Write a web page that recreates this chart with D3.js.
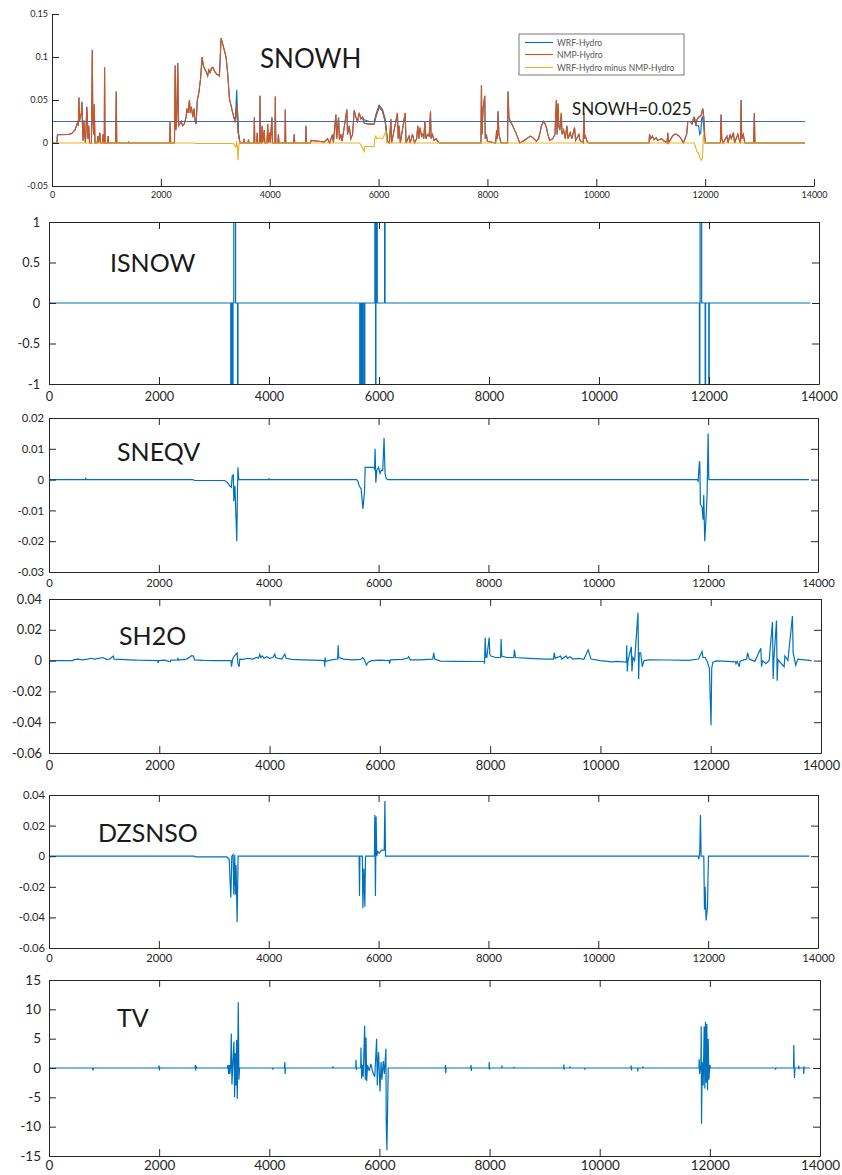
<!DOCTYPE html>
<html lang="en">
<head>
<meta charset="UTF-8">
<title>WRF-Hydro vs NMP-Hydro snow variables</title>
<script src="https://d3js.org/d3.v7.min.js"></script>
<style>
    body{ margin:0; background:#fff; }
    svg text{ font-family: Lato, "DejaVu Sans", sans-serif; }
</style>
</head>
<body>
<svg id="canvas" width="842" height="1175"></svg>
<script>
// shared x ticks
let xTicks = [0, 2000, 4000, 6000, 8000, 10000, 12000, 14000];

// y tick labels per panel
let snowhTicks = [-0.05, 0, 0.05, 0.1, 0.15];
let isnowTicks = [-1, -0.5, 0, 0.5, 1];
let sneqvTicks = [-0.03, -0.02, -0.01, 0, 0.01, 0.02];
let sh2oTicks = [-0.06, -0.04, -0.02, 0, 0.02, 0.04];
let dzsnsoTicks = [-0.06, -0.04, -0.02, 0, 0.02, 0.04];
let tvTicks = [-15, -10, -5, 0, 5, 10, 15];

let legendNames = ["WRF-Hydro", "NMP-Hydro", "WRF-Hydro minus NMP-Hydro"];
let snowhThreshold = 0.025;

// SNOWH, NMP-Hydro (the WRF-Hydro curve is the same except in the patches below)
let nmpSnowh = [[0,0],[90,0],[100,0.0096],[300,0.0098],[360,0.011],[420,0.015],[450,0.02],[470,0.024],[485,0.02],[495,0.053],[505,0.025],[520,0.03],[540,0.035],[550,0.048],[560,0.02],[570,0.003],[585,0.026],[600,0.01],[615,0],[640,0.042],[650,0.03],[660,0.005],[675,0.02],[690,0],[725,0],[740,0.108],[750,0.03],[765,0.01],[777,0.045],[790,0],[830,0],[845,0.008],[855,0],[880,0.012],[890,0],[925,0],[940,0.01],[950,0],[960,0],[966,0.088],[975,0],[1020,0],[1030,0.008],[1040,0],[1170,0],[1180,0.06],[1190,0],[1400,0],[1410,0.001],[1420,0],
    [2160,0],[2171,0.025],[2180,0],[2250,0],[2263,0.09],[2275,0.015],[2290,0.025],[2311,0.093],[2325,0.02],[2345,0.022],[2373,0.025],[2400,0.02],[2430,0.022],[2464,0.03],[2480,0.04],[2500,0.035],[2526,0.05],[2540,0.035],[2560,0.042],[2587,0.03],[2610,0.04],[2630,0.025],[2648,0.022],[2670,0.05],[2697,0.058],[2730,0.075],[2758,0.1],[2780,0.09],[2801,0.087],[2831,0.083],[2860,0.078],[2880,0.085],[2905,0.082],[2930,0.087],[2954,0.088],[2990,0.083],[3027,0.08],[3060,0.079],[3076,0.078],[3106,0.122],[3149,0.112],[3198,0.1],[3229,0.08],[3259,0.052],[3302,0.04],[3339,0.03],[3369,0.024],[3394,0.045],[3410,0.025],[3420,0.012],[3443,0.004],[3460,0],
    [3520,0],[3530,0.005],[3540,0],[3600,0],[3610,0.004],[3620,0],[3710,0],[3718,0.03],[3726,0],[3760,0],[3770,0.012],[3780,0],[3815,0],[3822,0.055],[3830,0],[3850,0],[3860,0.02],[3870,0],[3900,0.015],[3910,0],[3950,0],[3963,0.022],[3975,0],[4000,0.012],[4010,0],[4040,0.03],[4050,0],[4095,0],[4103,0.054],[4112,0],[4150,0],[4160,0.01],[4170,0],[4280,0],[4287,0.039],[4295,0],[4440,0],[4450,0.01],[4460,0],[4660,0],[4666,0.02],[4672,0],[4750,0],[4760,0.003],[4900,0.002],[5000,0.001],
    [5063,0.005],[5100,0],[5155,0.01],[5170,0],[5216,0.033],[5230,0.005],[5265,0.03],[5280,0.004],[5308,0.01],[5330,0.002],[5418,0.039],[5430,0.01],[5461,0.02],[5490,0.005],[5522,0.01],[5553,0.038],[5583,0.03],[5614,0.025],[5644,0.035],[5675,0.028],[5705,0.03],[5736,0.023],[5828,0.022],[5919,0.022],[5950,0.03],[6011,0.042],[6072,0.037],[6121,0.025],[6164,0.002],[6200,0],[6225,0.028],[6240,0],[6347,0.035],[6360,0.005],[6378,0.02],[6400,0],[6488,0.035],[6505,0],[6560,0.008],[6580,0],[6623,0.01],[6660,0],
    [6700,0.005],[6720,0.02],[6740,0.005],[6760,0.018],[6790,0.008],[6810,0.01],[6830,0.005],[6850,0.025],[6870,0.005],[6900,0.01],[6930,0.008],[6954,0.037],[6965,0.005],[6990,0.01],[7020,0.003],[7060,0.005],[7080,0.002],[7120,0],[7880,0],[7890,0.067],[7900,0.01],[7920,0.04],[7951,0.055],[7960,0.005],[7980,0.01],[8000,0.002],[8150,0],[8170,0.015],[8180,0.005],[8196,0.037],[8210,0.01],[8230,0.005],[8250,0],[8370,0],[8379,0.06],[8395,0.03],[8420,0.025],[8450,0.022],[8500,0.015],[8560,0.006],[8593,0],[8650,0.002],[8720,0.005],[8790,0.008],[8840,0.006],[8899,0.002],[8940,0.005],[8970,0.013],[8991,0.02],[9034,0.025],[9060,0.022],[9083,0.018],[9110,0.01],[9144,0.003],[9200,0.005],[9240,0.01],[9266,0.05],[9280,0.01],[9297,0.046],[9310,0.02],[9330,0.015],[9358,0.035],[9370,0.01],[9400,0.015],[9430,0.005],[9460,0.02],[9480,0.005],[9520,0.012],[9550,0.005],[9600,0.018],[9620,0.003],[9680,0.01],[9700,0.003],[9760,0],[9774,0.035],[9785,0.005],[9800,0.008],[9830,0.002],[9860,0],
    [10970,0],[10978,0.01],[11000,0.005],[11030,0.008],[11060,0.004],[11100,0.006],[11130,0.003],[11200,0.005],[11250,0.002],[11300,0],[11315,0.012],[11325,0],[11400,0.008],[11437,0.01],[11480,0.01],[11520,0.008],[11560,0.005],[11600,0],[11660,0.01],[11682,0.025],[11720,0.025],[11760,0.022],[11790,0.03],[11804,0.03],[11830,0.02],[11850,0.027],[11880,0.03],[11926,0.032],[11957,0.04],[11975,0.03],[11990,0.01],[12000,0],[12280,0],[12293,0.033],[12305,0.005],[12330,0],[12400,0.008],[12420,0],[12460,0.01],[12480,0.005],[12520,0.012],[12540,0],[12600,0.01],[12620,0.005],[12650,0],[12660,0.05],[12672,0.005],[12700,0.01],[12730,0],[12890,0],[12904,0.035],[12915,0],[13835,0]];

// SNOWH, WRF-Hydro where it departs from NMP-Hydro
let wrfSnowhPatches = [
    [[3339,0.03],[3369,0.028],[3394,0.062],[3405,0.04],[3418,0.03],[3430,0.01],[3443,0.004]],
    [[5705,0.03],[5736,0.027],[5828,0.025],[5919,0.025],[5950,0.033],[6011,0.044],[6072,0.039],[6121,0.028],[6164,0.002]],
    [[11790,0.03],[11810,0.025],[11840,0.02],[11880,0.02],[11900,0.01],[11920,0.012],[11935,0.028],[11950,0.03],[11975,0.02],[11990,0.005],[12000,0]]
];

// SNOWH, WRF-Hydro minus NMP-Hydro
let diffSnowh = [[0,0],[2600,0],[2650,-0.0006],[3300,-0.0006],[3339,-0.001],[3380,-0.005],[3394,0.002],[3405,-0.003],[3418,-0.02],[3430,-0.005],[3443,0],[5650,0],[5675,-0.002],[5700,-0.005],[5736,-0.01],[5750,-0.004],[5919,-0.004],[5928,0.005],[5950,0.008],[5968,0.005],[6011,0.006],[6072,0.005],[6133,0.013],[6150,0],[11800,0],[11830,-0.006],[11850,-0.01],[11880,-0.012],[11900,-0.017],[11930,-0.02],[11950,-0.018],[11960,-0.005],[11970,0.01],[11980,0.004],[12000,0],[13835,0]];

// ISNOW difference: [start, end, value], zero elsewhere
let isnowEvents = [[3305,3318,-1],[3335,3345,-1],[3360,3392,1],[3428,3436,-1],[5650,5658,-1],[5678,5686,-1],[5704,5712,-1],[5735,5742,-1],[5925,5933,1],[5938,5944,-1],[5950,5968,1],[6102,6110,1],[11826,11834,-1],[11838,11866,1],[11930,11938,-1],[11996,12004,-1]];
let isnowEnd = 13842;

let sneqvDiff = [[0,0],[660,0],[670,0.0004],[680,0],[2620,0],[2645,-0.0003],[3200,-0.0003],[3250,-0.001],[3290,-0.002],[3320,-0.0025],[3335,0.0012],[3355,0.0015],[3365,-0.007],[3385,-0.002],[3400,-0.01],[3419,-0.02],[3430,-0.005],[3440,0.004],[3455,0],[4000,0],[4005,0.0005],[4010,0],[5600,0],[5623,-0.0005],[5647,-0.002],[5683,-0.003],[5714,-0.0095],[5744,-0.004],[5756,0.004],[5907,0.004],[5925,0.0035],[5937,0.01],[5950,-0.001],[5968,0.003],[5998,0.004],[6028,0.002],[6050,0.003],[6076,0.003],[6100,0.0135],[6118,0.002],[6136,0.0005],[6160,0],[11800,0],[11818,-0.0005],[11830,0.003],[11842,0.006],[11848,0.005],[11860,-0.008],[11890,-0.009],[11908,-0.013],[11920,-0.005],[11938,-0.02],[11963,-0.012],[11981,-0.005],[12000,0.015],[12012,0],[13835,0]];

let sh2oDiff = [[0,0],[430,0],[441,0.0005],[520,0.001],[600,0.0005],[700,0.001],[760,0.0015],[820,0.001],[900,0.0015],[980,0.002],[1040,0.0008],[1100,0.001],[1166,0.003],[1180,0.001],[1300,0.0008],[1450,0.0005],[1600,0.0003],[1800,0.0002],[1975,0],[1981,-0.0015],[1990,0],[2100,0.0003],[2200,-0.0008],[2210,0.0003],[2330,0.0005],[2340,0.0018],[2350,0.0003],[2500,0.001],[2560,0.0025],[2585,0.0032],[2620,0.003],[2640,0.0005],[2800,0.0002],[3000,0],[3300,0],[3310,-0.004],[3330,0.001],[3360,0.003],[3412,0.005],[3425,-0.002],[3449,-0.004],[3460,0.001],[3520,0.0008],[3600,0.0015],[3700,0.001],[3760,0.002],[3800,0.0015],[3823,0.004],[3840,0.002],[3870,0.003],[3900,0.0015],[3950,0.0025],[4000,0.0015],[4060,0.002],[4095,0.0042],[4110,0.002],[4150,0.0015],[4220,0.001],[4276,0.0042],[4300,0.0015],[4400,0.0008],[4600,0.0005],[4800,0.0003],[4995,0],[5001,-0.004],[5006,0.002],[5020,-0.0005],[5100,0.0003],[5235,0.001],[5243,0.01],[5255,0.002],[5350,0.001],[5500,0.0005],[5650,0.0008],[5690,0.002],[5720,0.0005],[5756,-0.003],[5790,-0.001],[5850,0],[6000,0.0003],[6170,0],[6179,-0.002],[6190,0.0005],[6400,0.0008],[6500,0.0015],[6520,0.0025],[6550,0.0005],[6735,0.0005],[6960,0.001],[6976,0.005],[6995,0.001],[7100,-0.0003],[7400,-0.0005],[7700,-0.0006],[7890,-0.0005],[7898,-0.002],[7910,0.015],[7925,0.002],[7940,0.002],[7982,0.015],[7995,0.004],[8012,0.003],[8100,0.002],[8190,0.002],[8199,0.014],[8210,0.003],[8300,0.002],[8430,0.002],[8440,0.007],[8460,0.002],[8700,0.0015],[9000,0.001],[9150,0.001],[9163,0.005],[9180,0.0015],[9280,0.003],[9300,0.001],[9380,0.003],[9400,0.0015],[9450,0.0025],[9500,0.001],[9600,0.0015],[9700,0.0008],[9777,0.007],[9830,0.001],[10000,0],[10200,-0.0008],[10300,-0.0005],[10470,-0.001],[10476,0.01],[10488,-0.007],[10500,0],[10560,0.009],[10572,-0.007],[10590,0.002],[10620,0],[10681,0.031],[10693,-0.012],[10705,0.005],[10730,0.005],[10759,-0.004],[10790,0],[10900,0.0005],[11200,0.0004],[11600,0.0002],[11780,0.001],[11843,0.006],[11860,0.002],[11900,0.002],[11940,-0.001],[11976,-0.005],[12006,-0.042],[12018,-0.005],[12040,-0.001],[12100,-0.0002],[12300,-0.0005],[12450,-0.0008],[12458,-0.002],[12480,-0.0005],[12518,-0.004],[12530,-0.0005],[12600,0.0005],[12650,0.001],[12669,0.005],[12699,0.001],[12800,-0.0005],[12909,0.008],[12922,-0.004],[12940,0],[13000,-0.002],[13060,0],[13120,0.025],[13132,-0.012],[13145,0.0005],[13193,0.026],[13205,-0.013],[13220,0.0005],[13331,-0.004],[13345,0.003],[13400,0],[13482,0.029],[13495,0.005],[13542,-0.003],[13580,0.001],[13700,0.0005],[13831,0]];

let dzsnsoDiff = [[0,0],[2645,0],[2660,-0.0005],[3240,-0.0005],[3280,-0.002],[3310,-0.027],[3328,0],[3352,0.001],[3364,-0.025],[3382,0.001],[3394,-0.025],[3406,-0.006],[3425,-0.043],[3443,0],[5645,0],[5653,-0.026],[5660,0],[5705,0],[5714,-0.034],[5732,-0.008],[5750,-0.033],[5762,0],[5925,0],[5931,0.027],[5943,-0.026],[5955,0.026],[5967,0],[5986,0.003],[6010,0.002],[6060,0.004],[6103,0.004],[6115,0.036],[6127,0],[11820,0],[11830,-0.002],[11848,0.003],[11860,0.027],[11872,0],[11921,0],[11933,-0.035],[11945,-0.02],[11963,-0.042],[11988,-0.033],[12006,0],[13842,0]];

let tvDiff = [[0,0],[790,0],[800,-0.4],[810,0],[1990,0],[2000,0.4],[2005,-0.4],[2010,0],[2650,0],[2660,0.5],[2666,-0.4],[2672,0.3],[2680,0],[3240,0],[3250,0.5],[3262,-1],[3275,0.5],[3285,-1],[3298,0.2],[3310,5.9],[3322,-2.8],[3340,1],[3358,4.5],[3370,-5],[3382,2.5],[3394,-3],[3406,4.8],[3419,-5.3],[3437,11.2],[3449,-2],[3460,0],[4060,0],[4065,-0.3],[4070,0],[4276,0],[4282,1],[4288,-1],[4294,0],[5150,0],[5155,0.3],[5160,0],[5570,0],[5575,1.4],[5581,-0.3],[5590,0],[5660,0],[5665,3.5],[5677,-1.8],[5690,0.5],[5705,-1.5],[5732,7.2],[5744,-2],[5756,5.2],[5768,-2.2],[5785,0.5],[5815,-0.5],[5845,0.7],[5875,-0.6],[5915,-1.5],[5949,5],[5961,-3],[5975,1.5],[5985,2.7],[6010,-4],[6030,1],[6045,-2],[6070,1.2],[6090,-1],[6118,3.3],[6124,-9.5],[6136,-14],[6148,-7],[6160,0],[7190,0],[7199,0.5],[7205,-0.9],[7212,0],[7655,0],[7663,0.5],[7669,-0.5],[7675,0],[7990,0],[7994,1],[7999,-0.3],[8005,0],[8220,0],[8223,0.4],[8228,0],[8440,0],[8445,0.2],[8450,0],[9345,0],[9349,0.6],[9354,-0.3],[9360,0],[9455,0],[9460,0.3],[9465,0],[9725,0],[9729,-0.3],[9735,0],[10568,0],[10572,0.4],[10577,-0.4],[10582,0],[10690,0],[10693,-0.6],[10698,0],[10780,0],[10783,0.3],[10788,0],[11800,0],[11807,1.5],[11813,-1],[11837,0.5],[11843,7.1],[11849,-9.5],[11860,1],[11879,-3],[11897,7.1],[11909,-3.5],[11921,7.9],[11933,-2.5],[11945,7.5],[11957,-3.8],[11970,5],[11982,-2],[12000,0.5],[12015,0],[13190,0],[13193,-0.3],[13198,0],[13520,0],[13524,3.9],[13536,-1.7],[13545,0],[13610,0],[13614,0.4],[13618,-0.2],[13622,0],[13700,0],[13705,-1],[13710,0.3],[13715,0],[13825,0]];

// build the ISNOW step line from its events
let isnowLine = [[0,0]];
isnowEvents.forEach(function(e){
    isnowLine.push([e[0],0],[e[0],e[2]],[e[1],e[2]],[e[1],0]);
});
isnowLine.push([isnowEnd,0]);

let BLUE = "#0072BD", ORANGE = "#D95319", YELLOW = "#EDB120";

// panel placement (pixels)
let panels = [
    {key:"SNOWH", x0:52, x1:814, y0:14, y1:186, yDomain:[-0.05,0.15], yTicks:snowhTicks, font:9, padX:6, padY:4, box:false,
     title:[260,68,26], series:[]},
    {key:"ISNOW", x0:49, x1:819, y0:222, y1:384, yDomain:[-1,1], yTicks:isnowTicks, font:12.7, padX:8, padY:9, box:true,
     title:[110,272,25], series:[{data:isnowLine, color:BLUE}]},
    {key:"SNEQV", x0:49, x1:818, y0:418, y1:572, yDomain:[-0.03,0.02], yTicks:sneqvTicks, font:11.3, padX:7, padY:5, box:true,
     title:[117,461,25], series:[{data:sneqvDiff, color:BLUE}]},
    {key:"SH2O", x0:49, x1:821, y0:599, y1:753, yDomain:[-0.06,0.04], yTicks:sh2oTicks, font:12.8, padX:8, padY:7, box:true,
     title:[119,645,25], series:[{data:sh2oDiff, color:BLUE}]},
    {key:"DZSNSO", x0:49, x1:818, y0:795, y1:948, yDomain:[-0.06,0.04], yTicks:dzsnsoTicks, font:11.2, padX:6, padY:4, box:true,
     title:[98,842,25], series:[{data:dzsnsoDiff, color:BLUE}]},
    {key:"TV", x0:49, x1:820, y0:980, y1:1156, yDomain:[-15,15], yTicks:tvTicks, font:13.5, padX:4, padY:8, box:true,
     title:[117,1027,25], series:[{data:tvDiff, color:BLUE}]}
];

let svg = d3.select("#canvas");
svg.append("rect").attr("width",842).attr("height",1175).attr("fill","#fff");

function styleAxis(sel, font){
    sel.attr("font-size", font).attr("font-family", "Lato, 'DejaVu Sans', sans-serif");
    sel.selectAll(".domain").attr("stroke", "#262626");
    sel.selectAll(".tick line").attr("stroke", "#262626");
    sel.selectAll(".tick text").attr("fill", "#262626");
}

panels.forEach(function(p){
    let g = svg.append("g");
    let x = d3.scaleLinear().domain([0,14000]).range([p.x0,p.x1]);
    let y = d3.scaleLinear().domain(p.yDomain).range([p.y1,p.y0]);
    let line = d3.line().x(d => x(d[0])).y(d => y(d[1]));

    g.append("clipPath").attr("id","clip"+p.key)
        .append("rect").attr("x",p.x0).attr("y",p.y0).attr("width",p.x1-p.x0).attr("height",p.y1-p.y0);
    let plot = g.append("g").attr("clip-path","url(#clip"+p.key+")");

    if(p.key === "SNOWH"){
        // WRF-Hydro under NMP-Hydro, difference on top
        plot.append("path").attr("d", line(nmpSnowh)).attr("fill","none").attr("stroke",BLUE).attr("stroke-width",1.1);
        wrfSnowhPatches.forEach(function(s){
            plot.append("path").attr("d", line(s)).attr("fill","none").attr("stroke",BLUE).attr("stroke-width",1.1);
        });
        plot.append("path").attr("d", line(nmpSnowh)).attr("fill","none").attr("stroke",ORANGE).attr("stroke-width",1.1);
        plot.append("path").attr("d", line(diffSnowh)).attr("fill","none").attr("stroke",YELLOW).attr("stroke-width",1.1);
        plot.append("path").attr("d", line([[0,snowhThreshold],[13835,snowhThreshold]]))
            .attr("fill","none").attr("stroke","#4169B0").attr("stroke-width",1);
    }
    p.series.forEach(function(s){
        plot.append("path").attr("d", line(s.data)).attr("fill","none").attr("stroke",s.color).attr("stroke-width",1.2);
    });

    // axes, MATLAB style inward ticks
    g.append("g").attr("transform","translate(0,"+p.y1+")")
        .call(d3.axisBottom(x).tickValues(xTicks).tickSize(-7).tickSizeOuter(0).tickPadding(p.padX).tickFormat(d => String(d)))
        .call(sel => styleAxis(sel, p.font));
    g.append("g").attr("transform","translate("+p.x0+",0)")
        .call(d3.axisLeft(y).tickValues(p.yTicks).tickSize(-7).tickSizeOuter(0).tickPadding(p.padY).tickFormat(d => String(d)))
        .call(sel => styleAxis(sel, p.font));
    if(p.box){
        g.append("g").attr("transform","translate(0,"+p.y0+")")
            .call(d3.axisTop(x).tickValues(xTicks).tickSize(-7).tickSizeOuter(0).tickFormat(""))
            .call(sel => styleAxis(sel, p.font));
        g.append("g").attr("transform","translate("+p.x1+",0)")
            .call(d3.axisRight(y).tickValues(p.yTicks).tickSize(-7).tickSizeOuter(0).tickFormat(""))
            .call(sel => styleAxis(sel, p.font));
    }

    g.append("text").attr("x",p.title[0]).attr("y",p.title[1])
        .attr("font-size",p.title[2]).attr("fill","#1a1a1a").text(p.key);
});

// SNOWH extras
svg.append("text").attr("x",572).attr("y",115).attr("font-size",17).attr("fill","#1a1a1a").text("SNOWH=" + snowhThreshold);

let legend = svg.append("g");
legend.append("rect").attr("x",519).attr("y",34).attr("width",165).attr("height",41)
    .attr("fill","#fff").attr("stroke","#555").attr("stroke-width",0.8);
[BLUE, ORANGE, YELLOW].forEach(function(c,i){
    let yy = [42.5, 54.5, 67.5][i];
    legend.append("line").attr("x1",525).attr("x2",553).attr("y1",yy).attr("y2",yy).attr("stroke",c).attr("stroke-width",1.1);
    legend.append("text").attr("x",557).attr("y",yy+3).attr("font-size",8.5).attr("fill","#555").text(legendNames[i]);
});
</script>
</body>
</html>
